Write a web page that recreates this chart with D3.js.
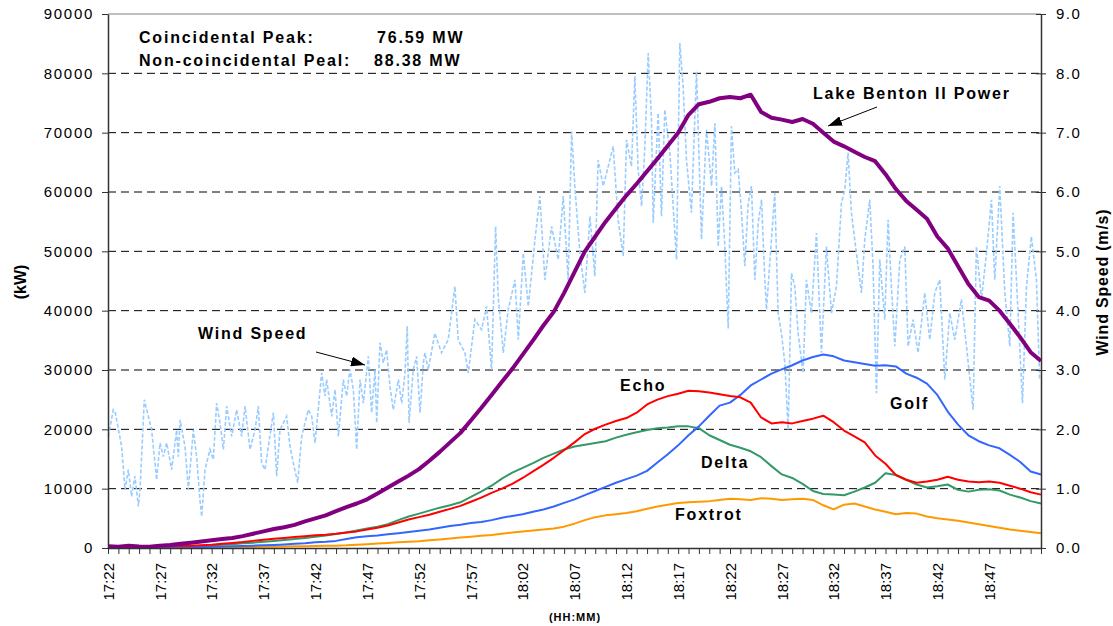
<!DOCTYPE html>
<html>
<head>
<meta charset="utf-8">
<script src="https://cdn.jsdelivr.net/npm/d3@7"></script>
<style>
  body { margin: 0; background: #fff; }
  svg text { font-family: "Liberation Sans", Arial, sans-serif; }
</style>
</head>
<body>
<div id="chart"></div>
<script>
// minutes after 17:22, one sample per minute (17:22 .. 18:52)
const minutes = d3.range(0, 91);
const tickLabels = ["17:22","17:27","17:32","17:37","17:42","17:47","17:52","17:57","18:02","18:07",
  "18:12","18:17","18:22","18:27","18:32","18:37","18:42","18:47"];

// kW
const lakeBenton = [300,200,400,250,200,400,500,700,900,1100,
  1300,1500,1700,2000,2400,2800,3200,3500,3900,4500,
  5000,5500,6200,6900,7500,8200,9200,10200,11200,12200,
  13300,14700,16200,17800,19400,21500,23600,25800,28000,30200,
  32600,35000,37500,39800,43000,46500,50000,52500,55000,57200,
  59400,61400,63500,65600,67800,70000,73000,74800,75200,75800,
  76000,75800,76400,73500,72500,72200,71800,72300,71500,70000,
  68500,67700,66800,65900,65200,63000,60500,58500,57000,55500,
  52500,50500,47500,44500,42300,41700,40000,37800,35500,33000,31500];

const echo = [0,50,100,150,200,250,300,350,400,480,
  550,700,850,1000,1200,1400,1550,1700,1850,2000,
  2150,2250,2400,2600,2800,3100,3400,3800,4300,4800,
  5200,5600,6100,6600,7100,7800,8500,9300,10000,10800,
  11800,12900,14000,15200,16500,17800,19200,20100,20800,21400,
  21900,22800,24200,25000,25600,26000,26500,26400,26200,25900,
  25600,25400,24500,22000,21000,21200,21000,21400,21800,22300,
  21200,19800,18800,17800,15600,14200,12300,11500,11000,11200,
  11500,12000,11500,11200,11100,11200,11000,10500,10000,9400,9000];

const delta = [0,30,60,100,130,170,210,260,320,380,
  450,550,650,780,900,1050,1200,1350,1500,1700,
  1900,2100,2350,2600,2950,3300,3600,4000,4700,5300,
  5800,6300,6800,7200,7700,8600,9500,10500,11700,12700,
  13500,14300,15200,15900,16600,17100,17400,17700,18000,18600,
  19100,19500,19900,20200,20300,20500,20500,20200,19000,18200,
  17400,16900,16300,15300,13800,12400,11800,10800,9600,9100,
  9000,8900,9500,10200,11000,12600,12300,11500,10700,10200,
  10400,10700,9800,9500,9800,9900,9700,9000,8500,7900,7500];

const golf = [0,0,20,40,60,80,100,120,150,180,
  210,250,300,350,400,450,520,600,700,800,
  950,1050,1200,1500,1800,2000,2100,2300,2500,2700,
  2900,3100,3400,3700,3900,4200,4400,4700,5100,5400,
  5700,6100,6500,7000,7600,8200,8900,9600,10300,11000,
  11600,12200,13000,14400,15800,17300,19000,20500,22300,24000,
  24500,25800,27400,28400,29400,30100,30800,31600,32200,32600,
  32300,31600,31300,31000,30700,30800,30600,29400,28700,27700,
  25800,23000,20800,19000,18000,17300,16800,15700,14500,12900,12400];

const foxtrot = [0,20,100,50,30,40,50,60,70,80,
  100,120,140,160,180,200,220,250,280,300,
  330,360,400,450,550,650,750,850,950,1050,
  1150,1300,1450,1600,1750,1900,2050,2200,2400,2600,
  2800,2950,3100,3300,3600,4100,4700,5200,5500,5700,
  5900,6200,6600,7000,7300,7600,7700,7800,7900,8100,
  8300,8200,8100,8400,8300,8100,8200,8300,8100,7200,
  6500,7300,7500,7000,6500,6100,5700,5900,5800,5300,
  5000,4800,4600,4300,4000,3700,3400,3100,2900,2700,2500];

// m/s, read at the visible turning points of the trace
const windMinutes = [0.03,0.51,0.68,1.32,1.64,1.96,2.28,2.60,2.93,3.09,
  3.50,3.89,4.21,4.53,4.69,5.02,5.34,5.66,6.14,6.62,
  6.78,6.95,7.43,7.75,8.23,8.55,8.87,9.04,9.36,9.84,
  10.16,10.48,10.80,11.13,11.45,11.93,12.41,12.89,13.22,13.70,
  14.18,14.50,14.82,15.14,15.47,15.95,16.27,16.59,17.23,17.56,
  17.88,18.30,18.68,19.32,19.65,19.97,20.61,20.93,21.09,21.58,
  21.90,22.22,22.70,23.02,23.34,23.67,23.99,24.31,24.63,25.11,
  25.43,25.76,25.92,26.24,26.56,26.88,27.20,27.52,28.01,28.33,
  28.65,28.87,29.04,29.45,29.77,30.10,30.42,30.57,30.89,31.53,
  32.17,32.82,33.46,33.78,34.43,34.75,35.39,36.03,36.52,37.00,
  37.39,37.64,38.13,38.61,39.26,39.58,40.06,40.54,41.19,41.66,
  42.14,42.79,43.43,43.91,44.39,44.72,45.03,45.52,46.00,46.49,
  46.96,47.28,47.77,48.25,48.73,49.21,49.70,50.02,50.50,50.82,
  51.14,51.47,51.79,52.11,52.43,52.59,53.07,53.39,53.71,54.20,
  54.84,55.16,55.48,55.80,56.28,56.77,57.25,57.73,58.22,58.54,
  58.86,59.18,59.50,59.83,60.14,60.46,60.79,61.11,61.43,61.75,
  62.07,62.40,62.72,63.04,63.36,63.52,64.00,64.32,64.64,64.96,
  65.29,65.61,65.93,66.25,66.57,67.05,67.37,67.86,68.34,68.82,
  69.30,69.79,70.27,70.75,71.07,71.39,71.71,72.19,72.68,73.00,
  73.48,73.80,74.13,74.45,74.93,75.25,75.57,75.90,76.38,76.86,
  77.18,77.66,78.14,78.79,79.27,79.75,80.23,80.72,81.20,81.68,
  82.32,82.81,83.45,83.77,84.26,84.74,85.22,85.54,86.02,86.51,
  86.99,87.31,87.79,88.21,88.60,89.07,89.56,89.87];
const windSpeed = [1.88,2.33,2.30,1.71,0.98,1.32,0.87,1.21,0.70,0.98,
  2.50,2.22,1.99,1.43,1.15,1.77,1.54,1.77,1.32,1.99,
  1.54,2.16,1.71,0.98,1.99,1.54,0.81,0.53,1.32,1.66,
  1.49,2.44,2.11,1.66,2.39,1.88,2.33,1.88,2.39,1.66,
  1.99,2.39,1.43,1.32,1.71,2.28,1.21,1.99,2.22,1.71,
  1.43,1.10,1.88,2.33,2.22,1.77,2.95,2.56,2.84,2.22,
  2.67,1.88,2.84,2.56,3.01,2.67,1.66,2.84,2.44,3.23,
  2.28,3.01,2.11,3.46,3.12,3.34,2.72,2.33,2.84,2.44,
  2.95,3.74,2.11,3.01,3.23,2.28,3.12,3.29,3.00,3.62,
  3.29,3.51,4.41,3.51,3.29,2.95,3.85,3.68,4.07,3.00,
  5.42,4.24,3.29,4.02,4.52,3.51,4.97,4.07,5.20,5.93,
  4.52,5.42,4.86,5.93,4.52,7.02,6.10,4.97,4.30,5.59,
  4.58,6.54,6.10,6.43,6.77,5.53,4.92,6.88,6.43,7.95,
  6.38,5.76,6.77,8.34,7.22,5.48,7.33,5.59,7.39,6.66,
  4.86,8.51,7.78,6.54,5.65,8.03,5.20,7.05,6.10,7.16,
  5.08,6.10,5.08,3.70,7.11,6.32,6.38,5.65,4.75,5.81,
  6.10,4.52,5.48,5.87,4.52,4.02,5.20,5.98,3.96,3.62,
  3.12,1.99,4.63,4.41,3.62,2.95,4.52,3.96,5.31,3.29,
  5.08,3.96,4.41,5.81,6.04,6.66,5.65,4.97,4.30,5.20,
  5.87,4.75,2.61,4.86,3.85,5.53,4.41,3.40,4.86,5.08,
  3.40,3.85,3.29,4.30,3.51,4.30,4.52,2.84,3.96,3.51,
  4.19,3.40,2.33,5.08,4.19,4.97,5.87,4.52,6.10,4.30,
  3.40,5.65,3.96,2.44,4.41,5.25,4.52,2.84];

var margin = { top: 14, right: 72, bottom: 78, left: 108 },
  width = 1113 - margin.left - margin.right,
  height = 626 - margin.top - margin.bottom;

var root = d3.select("#chart")
  .append("svg")
  .attr("width", 1113)
  .attr("height", 626);

var svg = root.append("g")
  .attr("transform", "translate(" + margin.left + "," + margin.top + ")");

var x = d3.scaleLinear().domain([0, 90]).range([0, width]);
var y = d3.scaleLinear().domain([0, 90000]).range([height, 0]);
var y2 = d3.scaleLinear().domain([0, 9]).range([height, 0]);

// gridlines
svg.selectAll("line.grid")
  .data(d3.range(10000, 80001, 10000))
  .enter()
  .append("line")
  .attr("class", "grid")
  .attr("x1", 0)
  .attr("x2", width)
  .attr("y1", d => y(d))
  .attr("y2", d => y(d))
  .attr("stroke", "#000")
  .attr("stroke-width", 1)
  .attr("stroke-dasharray", "8,5");

// top border of plot area
svg.append("line")
  .attr("x1", 0).attr("x2", width)
  .attr("y1", y(90000)).attr("y2", y(90000))
  .attr("stroke", "#808080")
  .attr("stroke-width", 1);

// series
function drawSeries(values, color, w) {
  var line = d3.line()
    .x((d, i) => x(minutes[i]))
    .y(d => y(d));
  svg.append("path")
    .datum(values)
    .attr("fill", "none")
    .attr("stroke", color)
    .attr("stroke-width", w)
    .attr("stroke-linejoin", "round")
    .attr("d", line);
}

var windLine = d3.line()
  .x((d, i) => x(windMinutes[i]))
  .y(d => y2(d));
svg.append("path")
  .datum(windSpeed)
  .attr("fill", "none")
  .attr("stroke", "#99CCFF")
  .attr("stroke-width", 1.6)
  .attr("stroke-dasharray", "4,2")
  .attr("d", windLine);

drawSeries(foxtrot, "#FF9900", 2);
drawSeries(delta, "#339966", 2);
drawSeries(golf, "#3366FF", 2);
drawSeries(echo, "#FF0000", 2);
drawSeries(lakeBenton, "#800080", 4);

// axes
var xAxis = svg.append("g")
  .attr("transform", "translate(0," + height + ")")
  .call(d3.axisBottom(x)
    .tickValues(minutes)
    .tickSize(6)
    .tickSizeOuter(0)
    .tickFormat(d => (d % 5 === 0 && tickLabels[d / 5]) ? tickLabels[d / 5] : ""));

xAxis.selectAll("text")
  .attr("transform", "rotate(-90)")
  .attr("x", -15)
  .attr("y", 0)
  .attr("dy", "0.35em")
  .style("text-anchor", "end")
  .style("font-size", "15px")
  .attr("fill", "#000");

var yAxis = svg.append("g")
  .call(d3.axisLeft(y)
    .tickValues(d3.range(0, 90001, 10000))
    .tickSize(6)
    .tickSizeOuter(0)
    .tickPadding(8)
    .tickFormat(d3.format("d")));
yAxis.selectAll("text")
  .style("font-size", "15px")
  .style("letter-spacing", "1.7px")
  .attr("fill", "#000");

var y2Axis = svg.append("g")
  .attr("transform", "translate(" + width + ",0)")
  .call(d3.axisRight(y2)
    .tickValues(d3.range(0, 10, 1))
    .tickSize(5)
    .tickSizeOuter(0)
    .tickPadding(10)
    .tickFormat(d3.format(".1f")));
y2Axis.selectAll("line").attr("x1", -5);
y2Axis.selectAll("text")
  .style("font-size", "15px")
  .style("letter-spacing", "1.5px")
  .attr("fill", "#000");

root.selectAll(".domain").attr("stroke", "#333").attr("stroke-width", 1.5);
root.selectAll(".tick line").attr("stroke", "#333");

// axis titles
root.append("text")
  .attr("transform", "translate(26,282) rotate(-90)")
  .style("text-anchor", "middle")
  .style("font-size", "16px")
  .style("font-weight", "bold")
  .text("(kW)");

root.append("text")
  .attr("transform", "translate(1108,282) rotate(-90)")
  .style("text-anchor", "middle")
  .style("font-size", "16px")
  .style("font-weight", "bold")
  .style("letter-spacing", "0.8px")
  .text("Wind Speed (m/s)");

root.append("text")
  .attr("x", 575)
  .attr("y", 621)
  .style("text-anchor", "middle")
  .style("font-size", "11px")
  .style("font-weight", "bold")
  .style("letter-spacing", "1px")
  .text("(HH:MM)");

// annotations
var notes = [
  { text: "Coincidental Peak:", x: 139, y: 43 },
  { text: "76.59 MW", x: 377, y: 43 },
  { text: "Non-coincidental Peal:", x: 139, y: 66 },
  { text: "88.38 MW", x: 374, y: 66 },
  { text: "Lake Benton II Power", x: 813, y: 99 },
  { text: "Wind Speed", x: 198, y: 339 },
  { text: "Echo", x: 620, y: 391 },
  { text: "Golf", x: 890, y: 409 },
  { text: "Delta", x: 701, y: 468 },
  { text: "Foxtrot", x: 675, y: 520 }
];
root.selectAll("text.note")
  .data(notes)
  .enter()
  .append("text")
  .attr("class", "note")
  .attr("x", d => d.x)
  .attr("y", d => d.y)
  .style("font-size", "16px")
  .style("font-weight", "bold")
  .style("letter-spacing", "1.8px")
  .text(d => d.text);

root.append("defs").append("marker")
  .attr("id", "arrow")
  .attr("markerUnits", "userSpaceOnUse")
  .attr("markerWidth", 14)
  .attr("markerHeight", 10)
  .attr("refX", 14)
  .attr("refY", 5)
  .attr("orient", "auto")
  .append("path")
  .attr("d", "M0,0 L14,5 L0,10 Z")
  .attr("fill", "#000");

var arrows = [
  { x1: 877, y1: 107, x2: 828, y2: 126 },
  { x1: 316, y1: 352, x2: 365, y2: 365 }
];
root.selectAll("line.arrow")
  .data(arrows)
  .enter()
  .append("line")
  .attr("class", "arrow")
  .attr("x1", d => d.x1).attr("y1", d => d.y1)
  .attr("x2", d => d.x2).attr("y2", d => d.y2)
  .attr("stroke", "#000")
  .attr("stroke-width", 1)
  .attr("marker-end", "url(#arrow)");
</script>
</body>
</html>
